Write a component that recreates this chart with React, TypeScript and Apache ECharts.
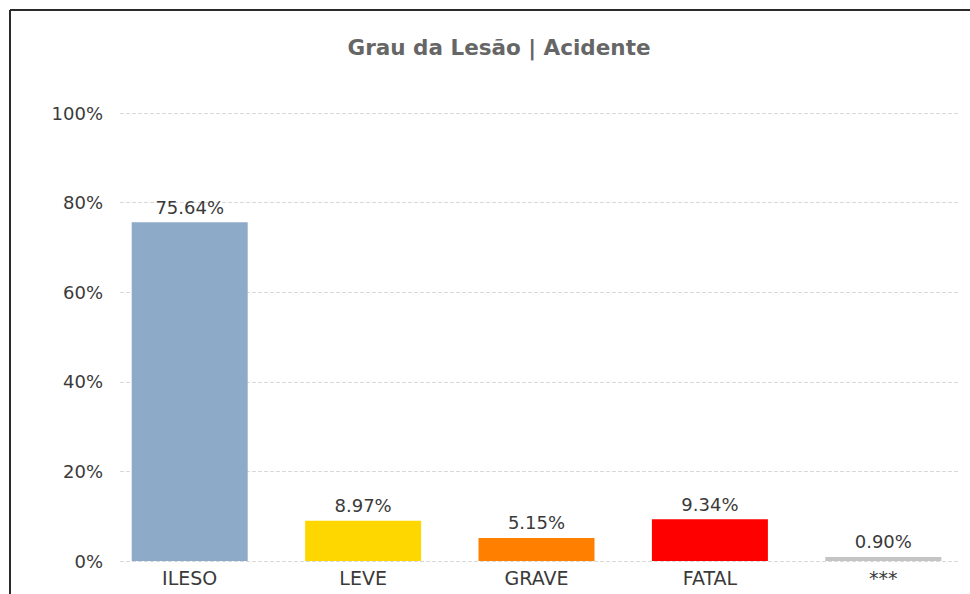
import React, { useEffect, useRef } from "react";
import * as echarts from "echarts";

const categories = ["ILESO", "LEVE", "GRAVE", "FATAL", "***"];
const values = [75.64, 8.97, 5.15, 9.34, 0.9];
const barColors = ["#8EAAC9", "#FFD700", "#FF8000", "#FF0000", "#C4C4C4"];
const yTicks = [0, 20, 40, 60, 80, 100];
const titleText = "Grau da Lesão | Acidente";

export default function App() {
  const ref = useRef<HTMLDivElement>(null);
  useEffect(() => {
    if (!ref.current) return;
    const chart = echarts.init(ref.current, undefined, { renderer: "svg" });
    const font = "'DejaVu Sans', Verdana, sans-serif";
    chart.setOption({
      animation: false,
      backgroundColor: "#ffffff",
      title: {
        text: titleText,
        left: 494,
        top: 31,
        textAlign: "center",
        textStyle: { fontFamily: font, fontSize: 21.5, fontWeight: "bold", color: "#666666" },
      },
      graphic: [
        { type: "line", shape: { x1: 10, y1: 10, x2: 970, y2: 10 }, style: { stroke: "#2a2a2a", lineWidth: 2 } },
        { type: "line", shape: { x1: 10, y1: 10, x2: 10, y2: 594 }, style: { stroke: "#2a2a2a", lineWidth: 2 } },
      ],
      grid: [
        { left: 103, top: 113, width: 872, height: 448, containLabel: false },
        { left: 120, top: 113, width: 839, height: 448, containLabel: false },
      ],
      xAxis: [
        {
          type: "category",
          gridIndex: 0,
          data: categories,
          axisLine: { show: false },
          axisTick: { show: false },
          axisLabel: { fontFamily: font, fontSize: 19, color: "#3a3a3a", margin: 7 },
        },
        { type: "value", gridIndex: 1, show: false, min: 0, max: 1 },
      ],
      yAxis: [
        { type: "value", gridIndex: 0, min: 0, max: 100, show: false, splitLine: { show: false } },
        {
          type: "value",
          gridIndex: 1,
          min: 0,
          max: 100,
          interval: 20,
          axisLine: { show: false },
          axisTick: { show: false },
          axisLabel: {
            fontFamily: font,
            fontSize: 18,
            color: "#3a3a3a",
            margin: 17,
            formatter: (v: number) => (yTicks.includes(v) ? v + "%" : ""),
          },
          splitLine: { show: true, lineStyle: { color: "#d9d9d9", type: [4, 2], width: 1 } },
        },
      ],
      series: [
        {
          type: "bar",
          xAxisIndex: 0,
          yAxisIndex: 0,
          barWidth: 116,
          data: values.map((v, i) => ({ value: v, itemStyle: { color: barColors[i] } })),
          label: {
            show: true,
            position: "top",
            distance: 6,
            fontFamily: font,
            fontSize: 18,
            color: "#3a3a3a",
            formatter: (p: any) => Number(p.value).toFixed(2) + "%",
          },
        },
      ],
    });
    return () => chart.dispose();
  }, []);
  return <div ref={ref} style={{ position: "absolute", left: 0, top: 0, width: 970, height: 594 }} />;
}
